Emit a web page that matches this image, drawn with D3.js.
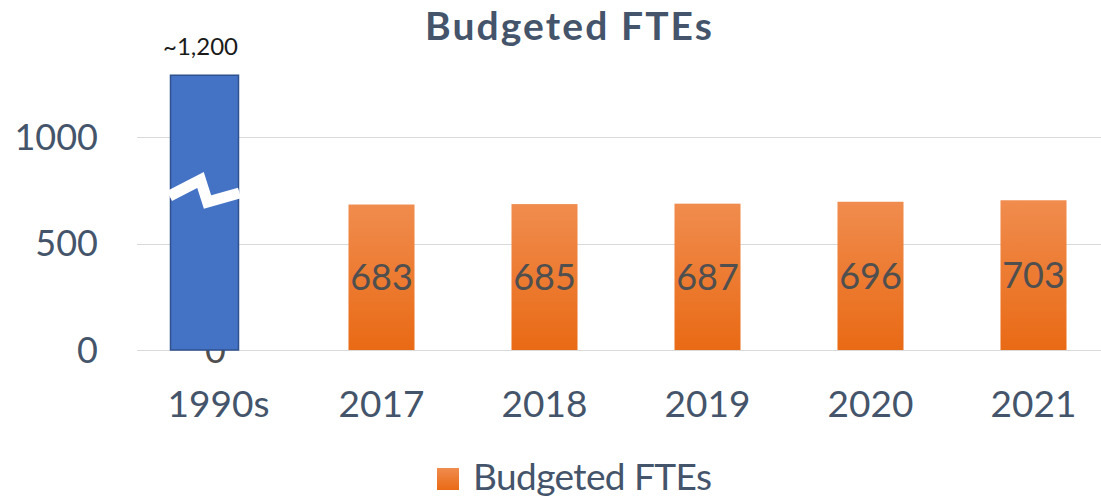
<!DOCTYPE html>
<html>
<head>
<meta charset="utf-8">
<script src="https://cdn.jsdelivr.net/npm/d3@7"></script>
<style>
  html, body { margin: 0; padding: 0; background: #fff; }
  svg { display: block; font-family: Lato, "Noto Sans", sans-serif; }
</style>
</head>
<body>
<div id="chart"></div>
<script>
// ── Datos ────────────────────────────────────────────────────────────────
const categorias = ["1990s", "2017", "2018", "2019", "2020", "2021"];
const valores = [0, 683, 685, 687, 696, 703];
const etiquetas = ["0", "683", "685", "687", "696", "703"];
const yTicks = [0, 500, 1000];
// barra "rota" de los 90 (forma dibujada encima, altura aparente)
const barra90Altura = 1290;
const barra90Etiqueta = "~1,200";
const titulo = "Budgeted FTEs";
const leyenda = "Budgeted FTEs";

// ── Lienzo ───────────────────────────────────────────────────────────────
const width = 1101;
const height = 498;
const inkColor = "#44546A";

const svg = d3.select("#chart")
  .append("svg")
  .attr("width", width)
  .attr("height", height)
  .attr("viewBox", [0, 0, width, height]);

const defs = svg.append("defs");
const grad = defs.append("linearGradient")
  .attr("id", "naranja")
  .attr("x1", 0).attr("y1", 0).attr("x2", 0).attr("y2", 1);
grad.append("stop").attr("offset", "0%").attr("stop-color", "#F08C4E");
grad.append("stop").attr("offset", "100%").attr("stop-color", "#E96A15");

// ── Escalas ──────────────────────────────────────────────────────────────
const x = d3.scaleBand()
  .domain(categorias)
  .range([137, 1115])
  .paddingInner(0)
  .paddingOuter(0);

const y = d3.scaleLinear()
  .domain([0, 1000])
  .range([350, 137]);

const barW = x.bandwidth() * 0.405;
const cx = c => x(c) + x.bandwidth() / 2;

// ── Rejilla ──────────────────────────────────────────────────────────────
svg.append("g")
  .selectAll("line")
  .data(yTicks)
  .join("line")
  .attr("x1", 137)
  .attr("x2", width)
  .attr("y1", d => Math.round(y(d)) + 0.5)
  .attr("y2", d => Math.round(y(d)) + 0.5)
  .attr("stroke", "#D9D9D9")
  .attr("stroke-width", 1);

// ── Eje Y ────────────────────────────────────────────────────────────────
svg.append("g")
  .selectAll("text")
  .data(yTicks)
  .join("text")
  .attr("x", 98)
  .attr("y", d => y(d))
  .attr("dy", "0.36em")
  .attr("text-anchor", "end")
  .attr("font-size", 36)
  .attr("fill", inkColor)
  .text(d => d);

// ── Eje X ────────────────────────────────────────────────────────────────
svg.append("g")
  .selectAll("text")
  .data(categorias)
  .join("text")
  .attr("x", d => cx(d))
  .attr("y", 417)
  .attr("text-anchor", "middle")
  .attr("font-size", 37)
  .attr("fill", inkColor)
  .text(d => d);

// ── Barras naranjas ──────────────────────────────────────────────────────
const datos = categorias.map((c, i) => ({ cat: c, valor: valores[i], etiqueta: etiquetas[i] }));

svg.append("g")
  .selectAll("rect")
  .data(datos.filter(d => d.valor > 0))
  .join("rect")
  .attr("x", d => cx(d.cat) - barW / 2)
  .attr("y", d => y(d.valor))
  .attr("width", barW)
  .attr("height", d => y(0) - y(d.valor))
  .attr("fill", "url(#naranja)");

// ── Etiquetas de datos ───────────────────────────────────────────────────
svg.append("g")
  .selectAll("text")
  .data(datos)
  .join("text")
  .attr("x", d => cx(d.cat) - (d.valor === 0 ? 3 : 0))
  .attr("y", d => (y(d.valor) + y(0)) / 2)
  .attr("dy", "0.36em")
  .attr("text-anchor", "middle")
  .attr("font-size", 36)
  .attr("fill", "#4F4F4F")
  .text(d => d.etiqueta);

// ── Barra azul de los 90 con corte ───────────────────────────────────────
const bx = cx("1990s") - 14;
const bw = 68;
const g90 = svg.append("g");
g90.append("rect")
  .attr("x", bx - bw / 2)
  .attr("y", y(barra90Altura))
  .attr("width", bw)
  .attr("height", y(0) - y(barra90Altura))
  .attr("fill", "#4472C4")
  .attr("stroke", "#2F528F")
  .attr("stroke-width", 1.5);

// zigzag blanco del corte
const corte = [
  [bx - bw / 2 - 1, 196],
  [bx - 4, 180],
  [bx + 3, 202],
  [bx + bw / 2 + 1, 193]
];
g90.append("path")
  .attr("d", d3.line()(corte))
  .attr("fill", "none")
  .attr("stroke", "#fff")
  .attr("stroke-width", 11)
  .attr("stroke-linejoin", "miter");

g90.append("text")
  .attr("x", bx - 4)
  .attr("y", 55)
  .attr("text-anchor", "middle")
  .attr("font-size", 24)
  .attr("fill", "#1a1a1a")
  .text(barra90Etiqueta);

// ── Título ───────────────────────────────────────────────────────────────
svg.append("text")
  .attr("x", 425)
  .attr("y", 40)
  .attr("font-size", 39)
  .attr("font-weight", "bold")
  .attr("fill", inkColor)
  .attr("textLength", 287)
  .attr("lengthAdjust", "spacing")
  .text(titulo);

// ── Leyenda ──────────────────────────────────────────────────────────────
svg.append("rect")
  .attr("x", 437)
  .attr("y", 468)
  .attr("width", 22)
  .attr("height", 22)
  .attr("fill", "url(#naranja)");

svg.append("text")
  .attr("x", 473)
  .attr("y", 490)
  .attr("font-size", 37)
  .attr("fill", inkColor)
  .attr("textLength", 239)
  .attr("lengthAdjust", "spacing")
  .text(leyenda);
</script>
</body>
</html>
